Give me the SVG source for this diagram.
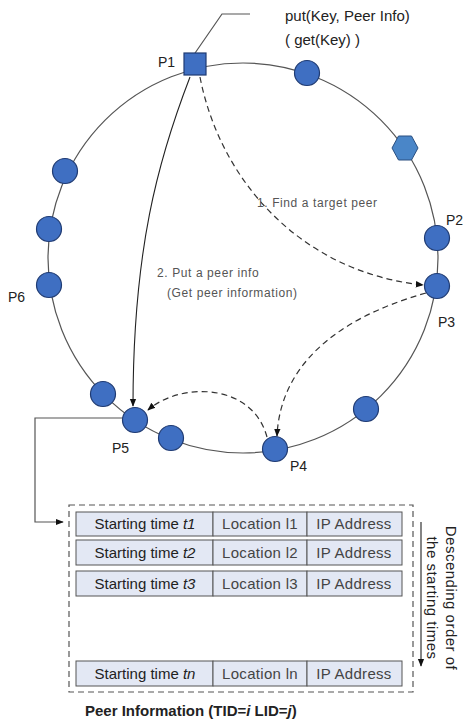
<svg xmlns="http://www.w3.org/2000/svg" width="464" height="723" viewBox="0 0 464 723">
<style>
text{font-family:"Liberation Sans",Arial,sans-serif;fill:#222}
.ring{fill:none;stroke:#555;stroke-width:1.2}
.peer{fill:#3f6fc2;stroke:#1f3b73;stroke-width:1.2}
.hex{fill:#4a86c8;stroke:#2a4f80;stroke-width:1}
.lbl{font-size:14px}
.note{font-size:12px;fill:#555;letter-spacing:0.6px}
.solid{fill:none;stroke:#222;stroke-width:1.1}
.dash{fill:none;stroke:#333;stroke-width:1.2;stroke-dasharray:6,4}
.line{fill:none;stroke:#555;stroke-width:1.2}
.cell{fill:#e3e8f4;stroke:#555;stroke-width:1}
.ct{font-size:15px;text-anchor:middle;fill:#222}
.ct2{font-size:15px;text-anchor:middle;fill:#444;letter-spacing:0.3px}
.vt{font-size:15px;text-anchor:middle;letter-spacing:0.5px}
</style>
<defs>
<marker id="ah" viewBox="0 0 10 10" refX="9" refY="5" markerWidth="8" markerHeight="8" orient="auto" markerUnits="userSpaceOnUse">
<path d="M0,1 L10,5 L0,9 Z" fill="#111"/>
</marker>
</defs>
<circle class="ring" cx="243" cy="258" r="195"/>
<g id="connectors">
<polyline class="line" points="193,56 222,14 250,14"/>
<path class="solid" d="M190,77 C158,160 133,250 133,406" marker-end="url(#ah)"/>
<path class="dash" d="M200,77 C220,180 300,272 423,285" marker-end="url(#ah)"/>
<path class="dash" d="M426,293 C330,320 280,370 277,436" marker-end="url(#ah)"/>
<path class="dash" d="M267,437 C252,382 180,382 148,410" marker-end="url(#ah)"/>
<polyline class="line" points="123,418 35,418 35,522 63,522" marker-end="url(#ah)"/>
<line x1="421" y1="522" x2="421" y2="666" stroke="#333" stroke-width="1.2" marker-end="url(#ah)"/>
</g>
<g id="P1"><rect class="peer" x="184" y="53" width="22" height="22"/><text class="lbl" x="158" y="67">P1</text></g>
<g id="n2"><circle class="peer" cx="307" cy="73" r="12.5"/></g>
<g id="hex"><polygon class="hex" points="392,148 398.5,136 411.5,136 418,148 411.5,160 398.5,160"/></g>
<g id="P2"><circle class="peer" cx="437" cy="238" r="12.5"/><text class="lbl" x="446" y="225">P2</text></g>
<g id="P3"><circle class="peer" cx="437" cy="286" r="12.5"/><text class="lbl" x="438" y="327">P3</text></g>
<g id="n3"><circle class="peer" cx="366" cy="409" r="12.5"/></g>
<g id="P4"><circle class="peer" cx="275" cy="449" r="12.5"/><text class="lbl" x="290" y="471">P4</text></g>
<g id="n4"><circle class="peer" cx="171" cy="438" r="12.5"/></g>
<g id="P5"><circle class="peer" cx="135" cy="420" r="12.5"/><text class="lbl" x="112" y="453">P5</text></g>
<g id="n5"><circle class="peer" cx="103" cy="394" r="12.5"/></g>
<g id="P6"><circle class="peer" cx="49" cy="285" r="12.5"/><text class="lbl" x="8" y="302">P6</text></g>
<g id="n6"><circle class="peer" cx="49" cy="229" r="12.5"/></g>
<g id="n7"><circle class="peer" cx="65" cy="171" r="12.5"/></g>
<g id="texts">
<text x="285" y="21" font-size="15">put(Key, Peer Info)</text>
<text x="285" y="45" font-size="15">( get(Key) )</text>
<text class="note" x="257" y="207">1. Find a target peer</text>
<text class="note" x="157" y="277">2. Put a peer info</text>
<text class="note" x="167" y="297">(Get peer information)</text>
</g>
<g id="table">
<rect x="69" y="505" width="344" height="187" fill="none" stroke="#555" stroke-width="1.2" stroke-dasharray="6,4"/>
<g id="row1">
<rect class="cell" x="76" y="512" width="137" height="24"/><rect class="cell" x="213" y="512" width="94" height="24"/><rect class="cell" x="307" y="512" width="95" height="24"/>
<text class="ct" x="145" y="529">Starting time <tspan font-style="italic">t1</tspan></text><text class="ct2" x="260" y="529">Location l1</text><text class="ct2" x="354" y="529">IP Address</text>
</g>
<g id="row2">
<rect class="cell" x="76" y="540" width="137" height="25"/><rect class="cell" x="213" y="540" width="94" height="25"/><rect class="cell" x="307" y="540" width="95" height="25"/>
<text class="ct" x="145" y="558">Starting time <tspan font-style="italic">t2</tspan></text><text class="ct2" x="260" y="558">Location l2</text><text class="ct2" x="354" y="558">IP Address</text>
</g>
<g id="row3">
<rect class="cell" x="76" y="571" width="137" height="25"/><rect class="cell" x="213" y="571" width="94" height="25"/><rect class="cell" x="307" y="571" width="95" height="25"/>
<text class="ct" x="145" y="589">Starting time <tspan font-style="italic">t3</tspan></text><text class="ct2" x="260" y="589">Location l3</text><text class="ct2" x="354" y="589">IP Address</text>
</g>
<g id="rown">
<rect class="cell" x="76" y="661" width="137" height="25"/><rect class="cell" x="213" y="661" width="94" height="25"/><rect class="cell" x="307" y="661" width="95" height="25"/>
<text class="ct" x="145" y="679">Starting time <tspan font-style="italic">tn</tspan></text><text class="ct2" x="260" y="679">Location ln</text><text class="ct2" x="354" y="679">IP Address</text>
</g>
<text class="vt" transform="translate(446,598) rotate(90)">Descending order of</text>
<text class="vt" transform="translate(427,598) rotate(90)">the starting times</text>
<text x="85" y="716" font-size="15" font-weight="bold">Peer Information (TID=<tspan font-style="italic">i</tspan> LID=<tspan font-style="italic">j</tspan>)</text>
</g>
</svg>
